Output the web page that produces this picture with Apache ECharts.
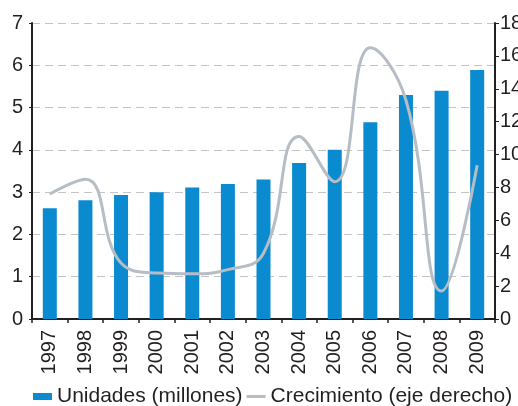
<!DOCTYPE html>
<html>
<head>
<meta charset="utf-8">
<script src="https://cdn.jsdelivr.net/npm/echarts@6/dist/echarts.min.js"></script>
<style>html,body{margin:0;padding:0;background:#fff}#c{width:518px;height:406px}</style>
</head>
<body>
<div id="c"></div>
<script>
const years = ['1997','1998','1999','2000','2001','2002','2003','2004','2005','2006','2007','2008','2009'];
const unidades = [2.62, 2.81, 2.93, 3.0, 3.11, 3.19, 3.30, 3.69, 4.0, 4.65, 5.30, 5.40, 5.89];
const crecimiento = [7.6, 8.5, 3.4, 2.8, 2.75, 3.0, 4.0, 11.1, 8.35, 16.5, 13.3, 1.7, 9.35];
const leftTicks = {min: 0, max: 7, interval: 1};
const rightTicks = {min: 0, max: 18, interval: 2};

const FONT = 'Liberation Sans, Arial, sans-serif';
const TXT = '#231f20';
const LINEC = '#b6bdc5';
const chart = echarts.init(document.getElementById('c'), null, {renderer: 'canvas'});
chart.setOption({
  animation: false,
  textStyle: {fontFamily: FONT, color: TXT},
  grid: {left: 32, right: 23, top: 23, bottom: 87, containLabel: false, outerBoundsMode: 'none'},
  legend: {
    left: 33, top: 386, padding: 0,
    itemWidth: 19, itemHeight: 7, itemGap: 4,
    textStyle: {fontSize: 21, color: TXT, fontFamily: FONT},
    data: [
      {name: 'Unidades (millones)', icon: 'rect'},
      {name: 'Crecimiento (eje derecho)', icon: 'path://M0,0 M19,7 M0,2 L19,2 L19,5 L0,5 Z',
       itemStyle: {color: LINEC, borderWidth: 0}, lineStyle: {width: 0}}
    ]
  },
  xAxis: {
    type: 'category', data: years,
    axisLine: {lineStyle: {color: TXT, width: 2}},
    axisTick: {show: true, length: 4, lineStyle: {color: TXT, width: 1.5}},
    axisLabel: {rotate: 90, fontSize: 20, color: TXT, margin: 11, fontFamily: FONT}
  },
  yAxis: [
    {
      type: 'value', min: leftTicks.min, max: leftTicks.max, interval: leftTicks.interval,
      axisLine: {show: true, lineStyle: {color: TXT, width: 2}},
      axisTick: {show: true, length: 3, lineStyle: {color: TXT}},
      axisLabel: {fontSize: 20, color: TXT, margin: 9, fontFamily: FONT},
      splitLine: {show: true, lineStyle: {color: '#c4c4c4', type: [8, 5], width: 1}}
    },
    {
      type: 'value', min: rightTicks.min, max: rightTicks.max, interval: rightTicks.interval,
      position: 'right',
      axisLine: {show: true, lineStyle: {color: TXT, width: 2}},
      axisTick: {show: true, length: 4, lineStyle: {color: TXT}},
      axisLabel: {fontSize: 20, color: TXT, margin: 5, fontFamily: FONT},
      splitLine: {show: false}
    }
  ],
  series: [
    {
      name: 'Unidades (millones)', type: 'bar', data: unidades, yAxisIndex: 0,
      barWidth: 14, itemStyle: {color: '#0a8bcf'}
    },
    {
      name: 'Crecimiento (eje derecho)', type: 'line', data: crecimiento, yAxisIndex: 1,
      smooth: 0.45, symbol: 'none', showSymbol: false,
      lineStyle: {color: LINEC, width: 3},
      itemStyle: {color: LINEC}
    }
  ]
});
</script>
</body>
</html>
